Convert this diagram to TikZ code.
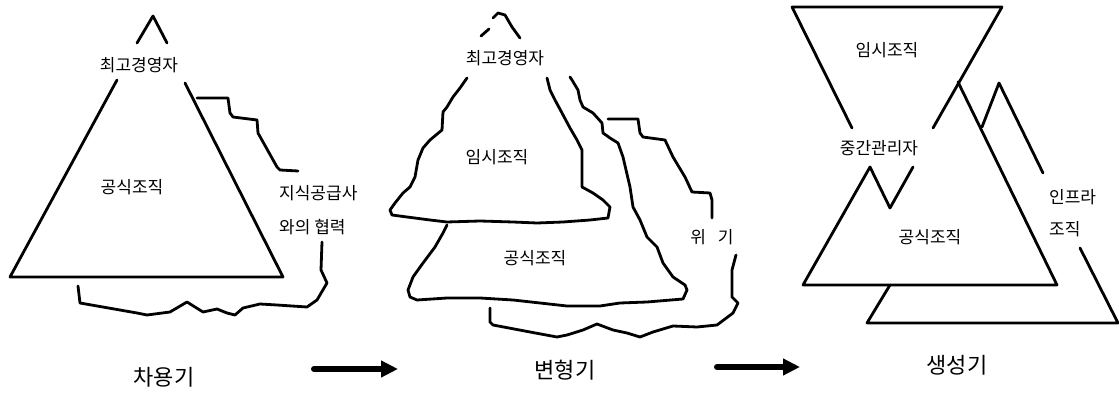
\documentclass[tikz,border=0pt]{standalone}
\usepackage{fontspec}
\newfontfamily\kr{Noto Sans CJK KR}
\usetikzlibrary{arrows.meta}
\begin{document}
\begin{tikzpicture}[x=1pt,y=-1pt,
  ln/.style={line width=2.8pt, line join=round, line cap=round},
  lbl/.style={font=\kr\fontsize{17}{17}\selectfont, inner sep=0pt},
  big/.style={font=\kr\fontsize{22}{22}\selectfont, inner sep=0pt},
  stagearrow/.style={line width=6pt, line cap=round, -{Triangle[length=17pt,width=16pt]}}]
\useasboundingbox (0,0) rectangle (1119,395);

% ---------------- Panel 1 : 차용기 ----------------
\draw[ln] (137,43) -- (153,16) -- (167,43);
\draw[ln] (117,80) -- (10,277) -- (283,277) -- (185,83);
\draw[ln] (197,98) -- (228,98) -- (230,113) -- (233,117) -- (257,120) -- (258,133)
  -- (277,167) -- (280,170) -- (298,171);
\draw[ln] (322,242) -- (321,270) -- (327,283) -- (317,300) -- (307,307) -- (277,305)
  -- (260,304) -- (243,308) -- (235,315) -- (227,313) -- (217,309) -- (203,312)
  -- (187,302) -- (170,312) -- (147,315) -- (137,313) -- (80,303) -- (78,286);
\node[lbl] (ceo1) at (139,65) {최고경영자};
\node[lbl] (formal1) at (132,187) {공식조직};
\node[lbl, anchor=west] (ks1) at (279,193) {지식공급사};
\node[lbl, anchor=west] (ks2) at (279,227) {와의 협력};

% ---------------- Panel 2 : 변형기 ----------------
\draw[ln] (481,36) -- (489,29);
\draw[ln] (493,18) -- (498,13) -- (505,15) -- (512,27) -- (520,38);
% upper (temporary) triangle
\draw[ln] (467,78) -- (460,88) -- (453,97) -- (447,107) -- (443,112) -- (442,130)
  -- (430,140) -- (423,148) -- (418,160) -- (415,177) -- (410,187) -- (403,193)
  -- (395,203) -- (390,210) -- (392,215) -- (407,217) -- (430,220) -- (447,222)
  -- (480,221) -- (513,222) -- (537,223) -- (563,222) -- (590,220) -- (608,218)
  -- (610,207) -- (603,200) -- (593,193) -- (582,187) -- (582,150) -- (577,140)
  -- (570,128) -- (562,113) -- (555,100) -- (550,90) -- (547,78);
% lower (formal) triangle
\draw[ln] (447,225) -- (443,233) -- (435,247) -- (423,263) -- (413,277) -- (408,290)
  -- (410,297) -- (417,300) -- (447,298) -- (480,298) -- (513,300) -- (540,303)
  -- (567,306) -- (600,306) -- (620,303) -- (647,302) -- (683,299) -- (687,290)
  -- (685,285) -- (673,277) -- (663,263) -- (657,247) -- (647,237) -- (640,220)
  -- (633,207) -- (630,187) -- (623,157) -- (618,143) -- (610,138) -- (603,133)
  -- (602,123) -- (593,113) -- (583,107) -- (580,100) -- (578,90) -- (572,80) -- (570,77);
% crisis line
\draw[ln] (608,119) -- (638,119) -- (640,133) -- (643,137) -- (665,140) -- (673,157)
  -- (685,177) -- (692,192) -- (710,193) -- (712,200) -- (712,218);
\draw[ln] (736,255) -- (732,270) -- (732,297) -- (738,303) -- (733,313) -- (717,325)
  -- (697,327) -- (673,326) -- (653,332) -- (640,337) -- (627,333) -- (613,330)
  -- (597,324) -- (583,330) -- (567,335) -- (557,337) -- (530,332) -- (493,325)
  -- (490,322) -- (490,308);
\node[lbl] (ceo2) at (505,58) {최고경영자};
\node[lbl] (temp2) at (497,157) {임시조직};
\node[lbl] (formal2) at (535,258) {공식조직};
\node[lbl] (crisis) at (712,237) {위\hspace{0.7em}기};

% ---------------- Panel 3 : 생성기 ----------------
\draw[ln] (852,128) -- (792,7) -- (1002,7) -- (933,128);
\draw[ln] (913,167) -- (890,208) -- (870,167) -- (803,285) -- (1057,285) -- (958,82);
\draw[ln] (982,127) -- (999,83) -- (1043,173);
\draw[ln] (1080,248) -- (1118,323) -- (867,323) -- (890,285);
\node[lbl] (temp3) at (887,50) {임시조직};
\node[lbl] (mid3) at (879,148) {중간관리자};
\node[lbl] (formal3) at (930,237) {공식조직};
\node[lbl, anchor=west] (inf1) at (1049,197) {인프라};
\node[lbl, anchor=west] (inf2) at (1049,229) {조직};

% ---------------- stages ----------------
\node[big] (s1) at (164,377) {차용기};
\node[big] (s2) at (565,370) {변형기};
\node[big] (s3) at (957,365) {생성기};
\coordinate (a1s) at (314,369);
\coordinate (a1e) at (398,369);
\coordinate (a2s) at (717,367);
\coordinate (a2e) at (800,367);
\draw[stagearrow] (a1s) -- (a1e);
\draw[stagearrow] (a2s) -- (a2e);
\end{tikzpicture}
\end{document}
